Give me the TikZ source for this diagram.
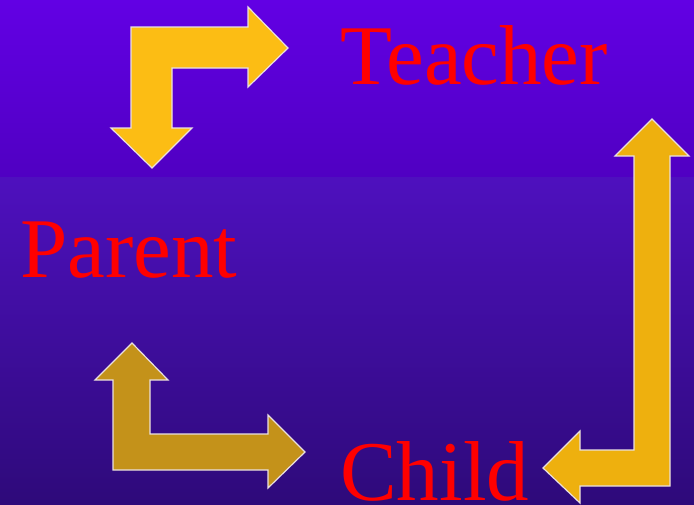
\documentclass[tikz,border=0pt]{standalone}
\usepackage{fontspec}
\setmainfont{Liberation Serif}
\usepackage{xcolor}
\usepackage{tikz}

\definecolor{bgtop}{HTML}{6200E4}
\definecolor{bgmid}{HTML}{5000C2}
\definecolor{bglow}{HTML}{4E10BE}
\definecolor{bgbot}{HTML}{2E0A7A}
\definecolor{goldA}{HTML}{FCBD14}
\definecolor{goldB}{HTML}{C4921A}
\definecolor{goldC}{HTML}{EEB00E}
\definecolor{rim}{HTML}{EAE0E0}

\tikzset{
    bentarrow/.style={draw=rim, line width=1.2pt, line join=miter},
    role/.style={text=red, font=\fontsize{85}{92}\selectfont, inner sep=0pt, anchor=base west}
}

\begin{document}
\begin{tikzpicture}[x=1pt, y=-1pt]
            \useasboundingbox (0, 0) rectangle (694, 504);
            \shade[top color=bgtop, bottom color=bgmid] (0, 0) rectangle (694, 177);
            \shade[top color=bglow, bottom color=bgbot] (0, 177) rectangle (694, 504);

            % parent -> teacher
            \filldraw[bentarrow, fill=goldA] (131, 27) -- (248, 27) -- (248, 7) -- (288, 48)
                -- (248, 87) -- (248, 68) -- (172, 68) -- (172, 128) -- (192, 128)
                -- (152, 168) -- (111, 128) -- (131, 128) -- cycle;

            % parent <-> child
            \filldraw[bentarrow, fill=goldB] (132, 343) -- (168, 380) -- (150, 380) -- (150, 434)
                -- (268, 434) -- (268, 415) -- (305, 452) -- (268, 488) -- (268, 470)
                -- (113, 470) -- (113, 380) -- (95, 380) -- cycle;

            % teacher <-> child
            \filldraw[bentarrow, fill=goldC] (652, 119) -- (689, 156) -- (670, 156) -- (670, 486)
                -- (580, 486) -- (580, 503) -- (543, 468) -- (580, 431) -- (580, 450)
                -- (634, 450) -- (634, 156) -- (615, 156) -- cycle;

            \node[role] (teacher) at (340, 84) {Teacher};
            \node[role] (parent) at (20, 277) {Parent};
            \node[role] (child) at (340, 500) {Child};
        \end{tikzpicture}
\end{document}
